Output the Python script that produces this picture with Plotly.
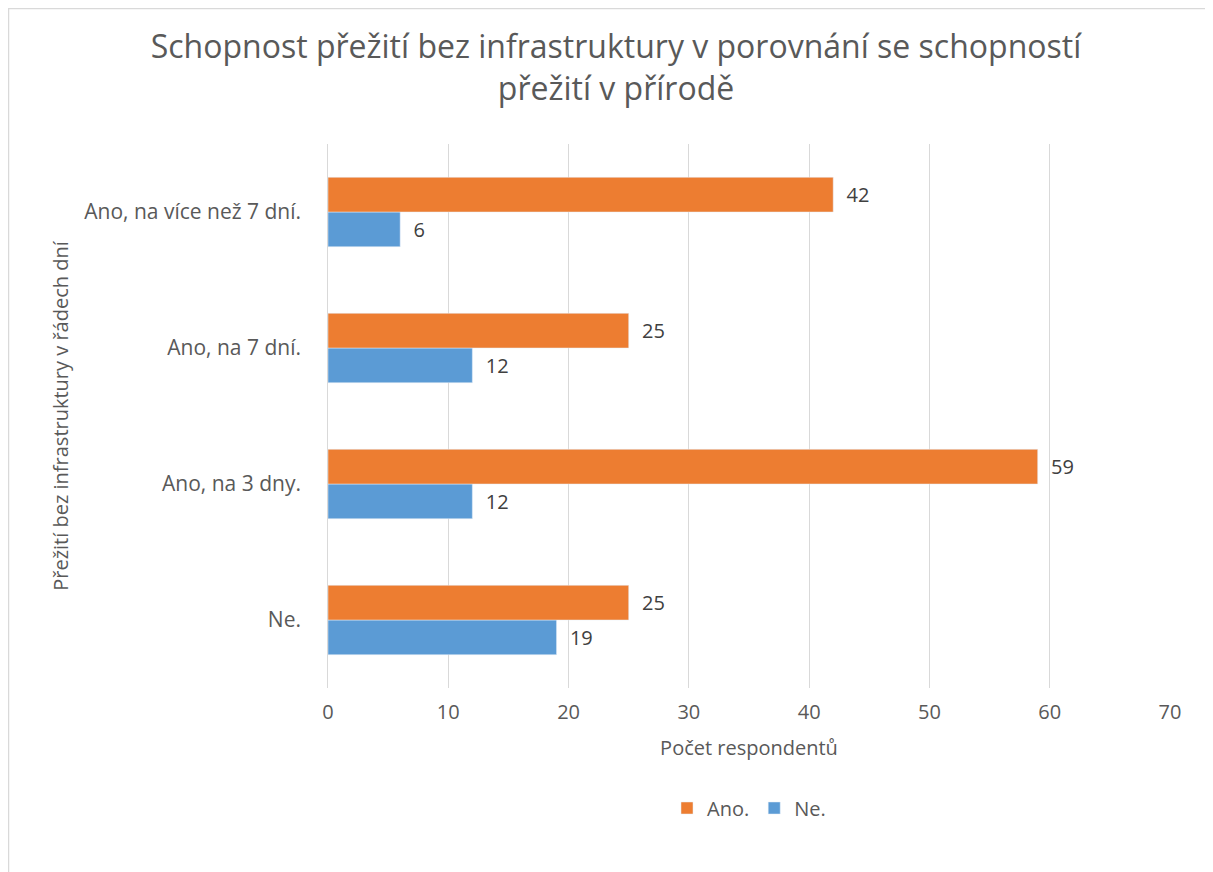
import plotly.graph_objects as go

categories = ["Ne.", "Ano, na 3 dny.", "Ano, na 7 dní.", "Ano, na více než 7 dní."]
ano_values = [25, 59, 25, 42]
ne_values = [19, 12, 12, 6]
x_ticks = [0, 10, 20, 30, 40, 50, 60, 70]

FONT = "'Open Sans', sans-serif"
GRAY = "#595959"

fig = go.Figure()
fig.add_trace(go.Bar(
    y=categories, x=ne_values, orientation="h", name="Ne.",
    marker=dict(color="#5b9bd5"), texttemplate="\u00a0\u00a0%{x}", textposition="outside",
    textfont=dict(size=20, color="#404040", family=FONT), cliponaxis=False,
    legendrank=2,
))
fig.add_trace(go.Bar(
    y=categories, x=ano_values, orientation="h", name="Ano.",
    marker=dict(color="#ed7d31"), texttemplate="\u00a0\u00a0%{x}", textposition="outside",
    textfont=dict(size=20, color="#404040", family=FONT), cliponaxis=False,
    legendrank=1,
))

W, H = 1205, 864
L, R, T, B = 320, 43, 136, 184
pw, ph = W - L - R, H - T - B

fig.update_layout(
    width=W, height=H,
    margin=dict(l=L, r=R, t=T, b=B),
    paper_bgcolor="white", plot_bgcolor="white",
    barmode="group", bargap=0.49, bargroupgap=0,
    font=dict(family=FONT, color=GRAY, size=20),
    title=dict(
        text="Schopnost přežití bez infrastruktury v porovnání se schopností<br>přežití v přírodě",
        x=608 / W, xanchor="center", y=1 - 50 / H, yanchor="top",
        font=dict(size=32, color=GRAY, family=FONT),
    ),
    xaxis=dict(
        range=[0, 70], tickvals=x_ticks, showgrid=True, gridcolor="#d9d9d9", gridwidth=1,
        zeroline=False, showline=False, ticks="", tickfont=dict(size=20, color=GRAY),
        ticklabelstandoff=10,
        title=dict(text="Počet respondentů", font=dict(size=20, color=GRAY), standoff=16),
        fixedrange=True,
    ),
    yaxis=dict(
        type="category", categoryorder="array", categoryarray=categories,
        showgrid=False, zeroline=False, showline=True, linecolor="#d9d9d9", linewidth=1,
        ticks="", ticksuffix="    ", tickfont=dict(size=21, color=GRAY),
        title=dict(text="Přežití bez infrastruktury v řádech dní", font=dict(size=20, color=GRAY), standoff=10),
    ),
    legend=dict(
        orientation="h", x=0.5, xanchor="center", y=(H - B - 800) / ph, yanchor="middle",
        font=dict(size=20, color=GRAY), traceorder="normal",
    ),
    showlegend=True,
)

fig.add_shape(
    type="rect", xref="paper", yref="paper",
    x0=(0.5 - L) / pw, x1=(1230 - L) / pw,
    y0=(H - B - 880) / ph, y1=(H - B - 0.5) / ph,
    line=dict(color="#d9d9d9", width=1.5), fillcolor="rgba(0,0,0,0)", layer="below",
)

fig.write_html("out.html")
